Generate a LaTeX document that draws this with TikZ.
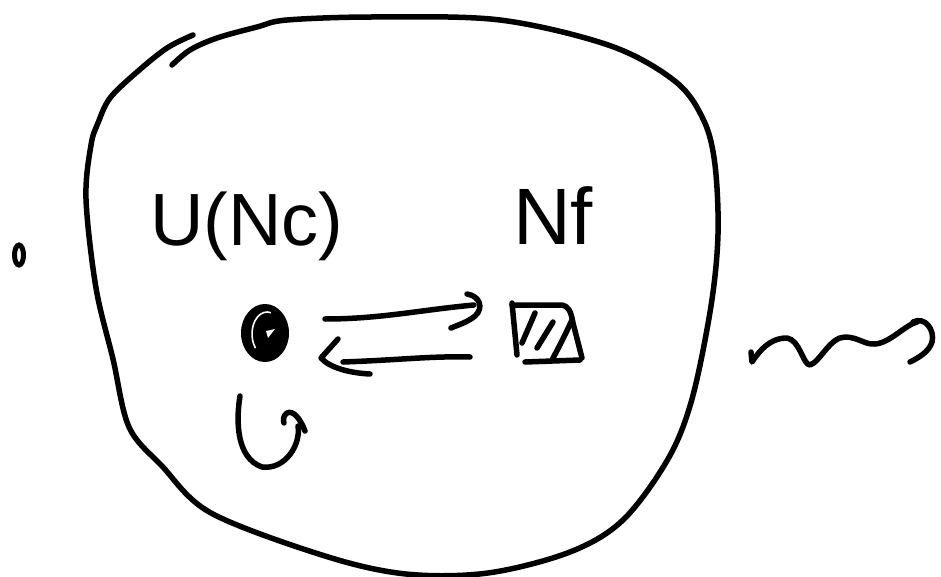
\documentclass[tikz,border=0pt]{standalone}
\usepackage{fontspec}
\setmainfont{Liberation Sans}
\begin{document}
\begin{tikzpicture}[x=1pt,y=-1pt,
  pen/.style={line width=5.5pt,line cap=round,line join=round},
  lbl/.style={inner sep=0pt,anchor=base west}]
\useasboundingbox[fill=white] (0,0) rectangle (941,577);
% blob outline
\draw[pen] plot[smooth, tension=0.55] coordinates {
 (172,65) (190,50) (217,38) (257,27) (287,20) (374,17) (500,20) (611,46)
 (676,82) (704,121) (715,165) (718,234) (711,306) (692,399) (668,459)
 (623,520) (570,552) (488,573) (406,574) (325,556) (211,513) (162,466)
 (129,427) (113,359) (96,288) (86,199) (91,145) (98,123) (110,98)
 (137,72) (167,48) (193,35)};
% small mark at left
\draw[line width=5pt] (19,255) ellipse [x radius=4.5, y radius=10];
% labels
\node[lbl] (gl) at (150,245) {\fontsize{74}{80}\selectfont U(Nc)};
\node[lbl] (fl) at (513,244) {\fontsize{80}{84}\selectfont Nf};
% gauge node
\coordinate (gauge) at (265,333);
\fill (gauge) ellipse [x radius=24, y radius=29];
\draw[white,line width=1.6pt] (267,334) ++(140:15 and 22) arc[start angle=140,end angle=285,x radius=15,y radius=22];
\fill[white] (266,331) -- (275,329) -- (268,338) -- cycle;
% flavor node
\coordinate (flavor) at (545,332);
\draw[pen] (512,303) -- (517,355);
\draw[pen] (512,305) -- (562,305) .. controls (568,306) and (571,311) .. (573,323) -- (582,358);
\draw[pen] (525,362) -- (580,360);
\draw[pen] (522,343) -- (535,313);
\draw[pen] (537,348) -- (553,322);
\draw[pen] (552,360) .. controls (560,345) and (566,333) .. (572,320);
% arrows between nodes
\draw[pen] (325,319) .. controls (380,319) and (420,310) .. (474,305);
\draw[pen] (467,294) .. controls (480,296) and (484,308) .. (475,316) .. controls (468,322) and (458,325) .. (451,328);
\draw[pen] (343,362) .. controls (400,360) and (430,356) .. (470,357);
\draw[pen] (338,339) -- (321,358) .. controls (330,368) and (350,373) .. (370,374);
% adjoint loop
\draw[pen] (240,396) .. controls (236,420) and (236,458) .. (262,467) .. controls (285,470) and (301,445) .. (298,426);
\draw[pen] (305,431) .. controls (300,418) and (293,410) .. (287,413) .. controls (283,416) and (283,420) .. (284,423);
% wavy arrow
\draw[pen] (751,352) -- (752,362) .. controls (760,350) and (770,338) .. (787,338) .. controls (800,340) and (803,365) .. (810,365) .. controls (820,362) and (830,337) .. (845,337) .. controls (858,337) and (865,345) .. (875,344) .. controls (890,343) and (905,325) .. (917,322);
\draw[pen] (913,322) .. controls (925,316) and (935,330) .. (932,342) .. controls (929,352) and (918,358) .. (910,362);
\end{tikzpicture}
\end{document}
